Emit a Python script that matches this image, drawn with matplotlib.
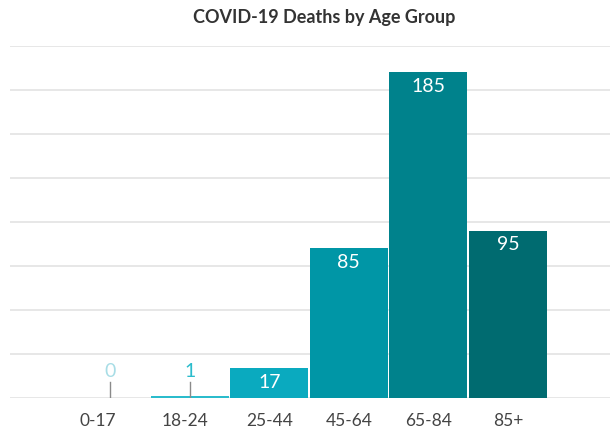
import matplotlib.pyplot as plt
import matplotlib.transforms as mtransforms
import numpy as np

plt.rcParams['font.family'] = ['Lato', 'DejaVu Sans']

age_groups = ["0-17", "18-24", "25-44", "45-64", "65-84", "85+"]
deaths = [0, 1, 17, 85, 185, 95]
bar_colors = ["#a8dde6", "#2bbccc", "#0aaabf", "#0096a6", "#00828c", "#006b70"]
grid_ticks = np.arange(0, 201, 25)

fig = plt.figure(figsize=(6.13, 4.35), dpi=100)
ax = fig.add_axes([10 / 613, 36 / 435, 600 / 613, 352 / 435])

x = np.arange(len(age_groups))
ax.bar(x, deaths, width=0.98, color=bar_colors, zorder=2)

for xi, val, col in zip(x, deaths, bar_colors):
    if val < 5:
        # tiny bars: label sits above with a small leader line
        ax.plot([xi, xi], [0, 9], color="#8a8a8a", lw=1, zorder=3)
        ax.text(xi, 15.5, str(val), ha="center", va="center",
                fontsize=14, color=col)
    else:
        ax.annotate(str(val), (xi, val), xytext=(0, -9.5),
                    textcoords="offset points", ha="center", va="center",
                    fontsize=14, color="white", zorder=4)

ax.set_xlim(-1.256, 6.28)
ax.set_ylim(0, 200)
ax.set_yticks(grid_ticks)
ax.yaxis.grid(True, color="#e3e3e3", lw=1.2, zorder=0)
ax.set_yticklabels([])
ax.tick_params(axis="y", length=0)
ax.set_xticks(x)
ax.set_xticklabels(age_groups, fontsize=12.5, color="#444444")
ax.tick_params(axis="x", length=0, pad=10)
# first two labels sit a bit left of their bars in the original
for lbl, dx in zip(ax.get_xticklabels(), [-12, -5, 0, 0, 0, 0]):
    lbl.set_transform(lbl.get_transform() +
                      mtransforms.ScaledTranslation(dx / 100, 0, fig.dpi_scale_trans))
for s in ax.spines.values():
    s.set_visible(False)

fig.text(324 / 613, 1 - 17 / 435, "COVID-19 Deaths by Age Group",
         ha="center", va="center", fontsize=13, fontweight="bold", color="#333333")

fig.savefig("out.png", dpi=100)
